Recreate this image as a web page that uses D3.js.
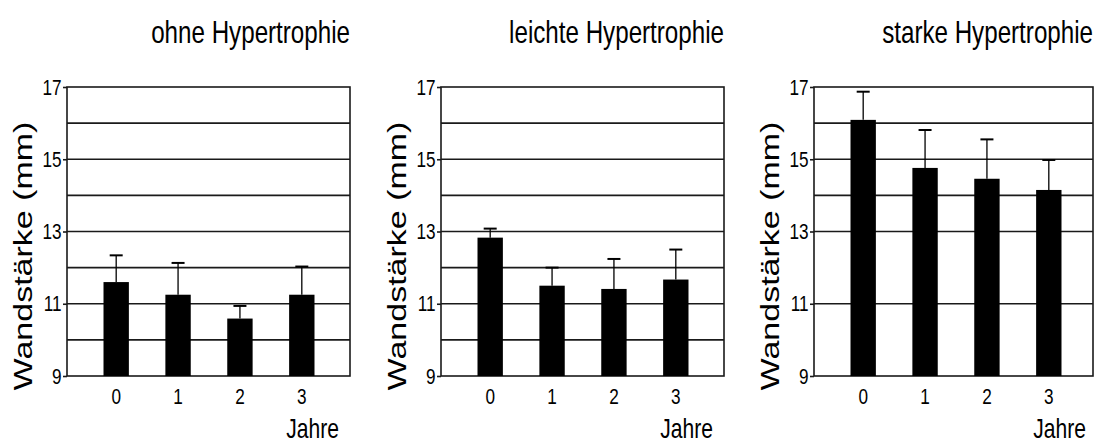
<!DOCTYPE html>
<html>
<head>
<meta charset="utf-8">
<script src="https://cdn.jsdelivr.net/npm/d3@7"></script>
<style>
  body { margin: 0; background: #fff; }
  text { font-family: "Liberation Sans", Arial, sans-serif; fill: #000; }
</style>
</head>
<body>
<svg id="chart" width="1101" height="444"></svg>
<script>
// Wandstärke over the years, three groups (mean + SD)
const years = ["0", "1", "2", "3"];
const panelTitles = ["ohne Hypertrophie", "leichte Hypertrophie", "starke Hypertrophie"];

const meanOhne = [11.6, 11.25, 10.59, 11.25];
const sdOhne = [0.74, 0.88, 0.35, 0.78];
const meanLeichte = [12.83, 11.5, 11.41, 11.67];
const sdLeichte = [0.25, 0.5, 0.83, 0.83];
const meanStarke = [16.09, 14.76, 14.46, 14.15];
const sdStarke = [0.78, 1.05, 1.09, 0.83];

const yTicks = [9, 11, 13, 15, 17];
const gridOhne = [10, 11, 12, 13, 14, 15, 16];
const gridLeichte = [10, 11, 12, 13, 14, 15, 16];
const gridStarke = [11, 13, 14, 15, 16];

const yLabel = "Wandstärke (mm)";
const xLabel = "Jahre";

const means = [meanOhne, meanLeichte, meanStarke];
const sds = [sdOhne, sdLeichte, sdStarke];
const grids = [gridOhne, gridLeichte, gridStarke];

// layout
const panelLeft = [67, 441, 814];
const panelWidth = [283, 283, 279];
const plotTop = 87, plotBottom = 376;
const squeeze = "scale(0.78,1)";
const lineColor = "#1a1a1a";

const svg = d3.select("#chart");
const y = d3.scaleLinear().domain([9, 17]).range([plotBottom, plotTop]);

panelTitles.forEach(function(title, i) {
  const w = panelWidth[i];
  const g = svg.append("g").attr("transform", "translate(" + panelLeft[i] + ",0)");
  const x = d3.scaleBand().domain(years).range([0, 284]).padding(0.59);

  const rows = years.map((yr, k) => ({ year: yr, mean: means[i][k], sd: sds[i][k] }));

  // horizontal grid lines
  g.selectAll(".grid")
    .data(grids[i])
    .join("line")
    .attr("class", "grid")
    .attr("x1", 0).attr("x2", w)
    .attr("y1", d => y(d)).attr("y2", d => y(d))
    .attr("stroke", lineColor)
    .attr("stroke-width", 1.6);

  // frame
  g.append("rect")
    .attr("x", 0).attr("y", plotTop)
    .attr("width", w).attr("height", plotBottom - plotTop)
    .attr("fill", "none")
    .attr("stroke", lineColor)
    .attr("stroke-width", 1.6);

  // bars
  g.selectAll(".bar")
    .data(rows)
    .join("rect")
    .attr("class", "bar")
    .attr("x", d => x(d.year))
    .attr("y", d => y(d.mean))
    .attr("width", x.bandwidth())
    .attr("height", d => y(9) - y(d.mean))
    .attr("fill", "#000");

  // error bars (upper only)
  const err = g.selectAll(".err").data(rows).join("g").attr("class", "err");
  err.append("line")
    .attr("x1", d => x(d.year) + x.bandwidth() / 2)
    .attr("x2", d => x(d.year) + x.bandwidth() / 2)
    .attr("y1", d => y(d.mean))
    .attr("y2", d => y(d.mean + d.sd))
    .attr("stroke", "#000").attr("stroke-width", 1.3);
  err.append("line")
    .attr("x1", d => x(d.year) + x.bandwidth() / 2 - 6.5)
    .attr("x2", d => x(d.year) + x.bandwidth() / 2 + 6.5)
    .attr("y1", d => y(d.mean + d.sd))
    .attr("y2", d => y(d.mean + d.sd))
    .attr("stroke", "#000").attr("stroke-width", 2);

  // y axis
  const ya = g.append("g")
    .call(d3.axisLeft(y).tickValues(yTicks).tickSize(4).tickPadding(3).tickFormat(d3.format("d")));
  ya.select(".domain").remove();
  ya.selectAll("line").attr("stroke", lineColor).attr("stroke-width", 1.6);
  ya.selectAll("text")
    .style("font-size", "22px")
    .attr("fill", "#000")
    .attr("transform", squeeze);

  // x axis
  const xa = g.append("g")
    .attr("transform", "translate(0," + plotBottom + ")")
    .call(d3.axisBottom(x).tickSize(0).tickPadding(12));
  xa.select(".domain").remove();
  xa.selectAll("text")
    .style("font-size", "22px")
    .attr("fill", "#000")
    .attr("transform", squeeze);

  // title
  g.append("g")
    .attr("transform", "translate(" + w + ",43) " + squeeze)
    .append("text")
    .attr("text-anchor", "end")
    .style("font-size", "31px")
    .text(title);

  // x label
  g.append("g")
    .attr("transform", "translate(272,438) " + squeeze)
    .append("text")
    .attr("text-anchor", "end")
    .style("font-size", "27px")
    .text(xLabel);

  // y label
  g.append("g")
    .attr("transform", "translate(-35,256) " + squeeze + " rotate(-90)")
    .append("text")
    .attr("text-anchor", "middle")
    .style("font-size", "34px")
    .text(yLabel);
});
</script>
</body>
</html>
